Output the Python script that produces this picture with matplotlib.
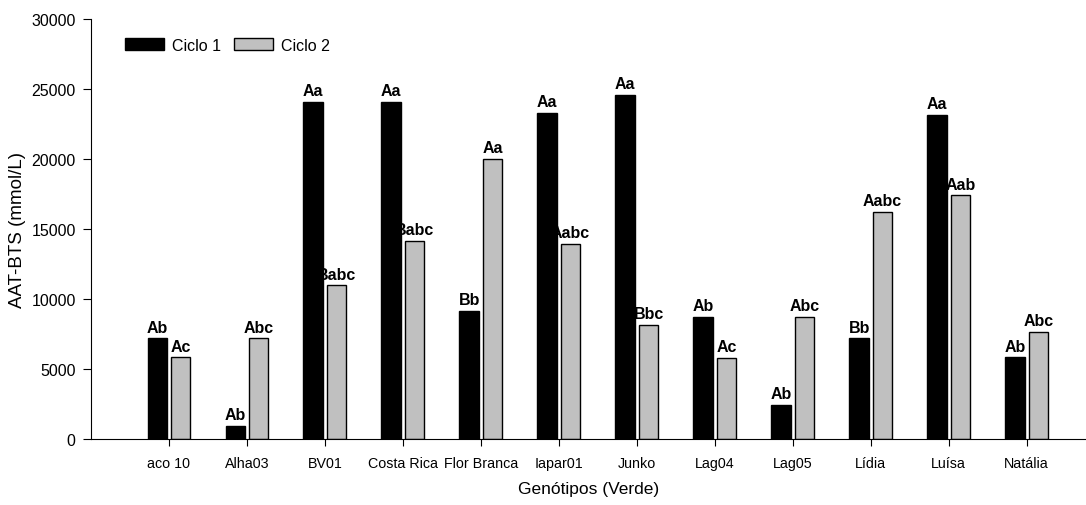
import numpy as np
import matplotlib
matplotlib.use("Agg")
import matplotlib.pyplot as plt

# -------------------------------------------------
# DATA
# -------------------------------------------------
genotipos = ["aco 10", "Alha03", "BV01", "Costa Rica", "Flor Branca", "Iapar01",
             "Junko", "Lag04", "Lag05", "Lídia", "Luísa", "Natália"]
ciclo1 = [7200, 930, 24100, 24100, 9150, 23300, 24600, 8750, 2450, 7200, 23150, 5850]
ciclo2 = [5850, 7200, 11000, 14150, 20000, 13950, 8150, 5800, 8750, 16250, 17400, 7650]
letras1 = ["Ab", "Ab", "Aa", "Aa", "Bb", "Aa", "Aa", "Ab", "Ab", "Bb", "Aa", "Ab"]
letras2 = ["Ac", "Abc", "Babc", "Babc", "Aa", "Aabc", "Bbc", "Ac", "Abc", "Aabc", "Aab", "Abc"]

plt.rcParams["font.family"] = ["Liberation Sans", "DejaVu Sans"]

# -------------------------------------------------
# PLOT
# -------------------------------------------------
fig = plt.figure(figsize=(10.86, 5.06), dpi=100)
ax = fig.add_axes([0.0838, 0.1304, 0.9162, 0.8301])

x = np.arange(len(genotipos))
w = 0.25
off = 0.15

ax.bar(x - off, ciclo1, width=w, color="black", edgecolor="black", linewidth=1, label="Ciclo 1")
ax.bar(x + off, ciclo2, width=w, color="#c0c0c0", edgecolor="black", linewidth=1, label="Ciclo 2")

# letras de significancia
for xi, v, t in zip(x, ciclo1, letras1):
    ax.text(xi - off, v + 250, t, ha="center", va="bottom", fontsize=11.5, fontweight="bold")
for xi, v, t in zip(x, ciclo2, letras2):
    ax.text(xi + off, v + 250, t, ha="center", va="bottom", fontsize=11.5, fontweight="bold")

ax.set_xlim(-1, 11.76)
ax.set_ylim(0, 30000)
ax.set_yticks(range(0, 30001, 5000))
ax.set_xticks(x)
ax.set_xticklabels(genotipos)

ax.spines["top"].set_visible(False)
ax.spines["right"].set_visible(False)
ax.tick_params(axis="y", direction="out", length=6, pad=5, labelsize=11.5)
ax.tick_params(axis="x", direction="out", length=5, pad=7, labelsize=10.3)

ax.set_xlabel("Genótipos (Verde)", fontsize=12.5, labelpad=8)
ax.set_ylabel("AAT-BTS (mmol/L)", fontsize=13.5, labelpad=4)

ax.legend(loc="upper left", bbox_to_anchor=(0.02, 0.99), ncol=2, frameon=False,
          fontsize=11.5, handlelength=2.45, handleheight=0.75, columnspacing=0.8,
          handletextpad=0.5)

plt.savefig("out.png", dpi=100)
